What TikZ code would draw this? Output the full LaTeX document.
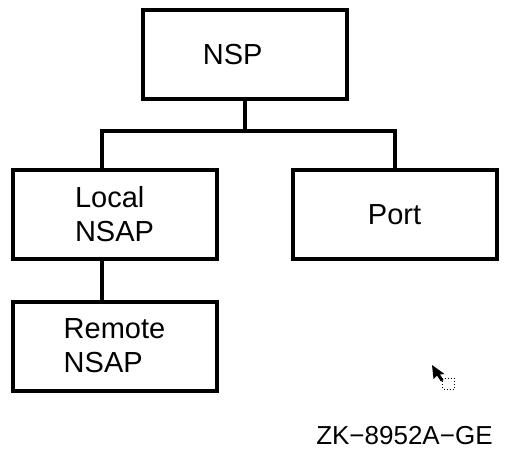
\documentclass[tikz,border=0pt]{standalone}
\usepackage{fontspec}
\setmainfont{Liberation Sans}
\usetikzlibrary{positioning}
\tikzset{unitbox/.style={draw,line width=2pt,minimum width=102pt,minimum height=44.5pt,inner sep=0pt,align=left,font=\fontsize{14.5}{17}\selectfont}}
\tikzset{link/.style={line width=2pt,line join=miter}}
\begin{document}
\begin{tikzpicture}[x=0.5pt,y=-0.5pt]
	\useasboundingbox (0,0) rectangle (509,456);
	\node[unitbox] (nsp) at (244.7,54.7) {NSP\hspace{12pt}};
	\node[unitbox] (local) at (114.5,214.5) {Local\\NSAP};
	\node[unitbox] (port) at (394.5,214.5) {Port};
	\node[unitbox] (remote) at (114.5,346) {Remote\\NSAP};
	\coordinate (bus) at (244.7,131);
	\coordinate (lj) at (102,131);
	\coordinate (pj) at (394.5,131);
	\draw[link] (nsp.south) -- (bus);
	\draw[link] (lj |- local.north) -- (lj) -- (pj) -- (port.north);
	\draw[link] (lj |- local.south) -- (lj |- remote.north);
	\fill[black] (432,365) -- (433.5,379) -- (437,375.5) -- (441,381.5) -- (443.5,380) -- (440,374.5) -- (444.5,374) -- cycle;
	\draw[densely dotted,line width=0.5pt] (442.5,378) rectangle (454,389);
	\node[anchor=base east,inner sep=0pt,font=\fontsize{13}{15}\selectfont] (code) at (493,444.3) {ZK−8952A−GE};
\end{tikzpicture}
\end{document}
